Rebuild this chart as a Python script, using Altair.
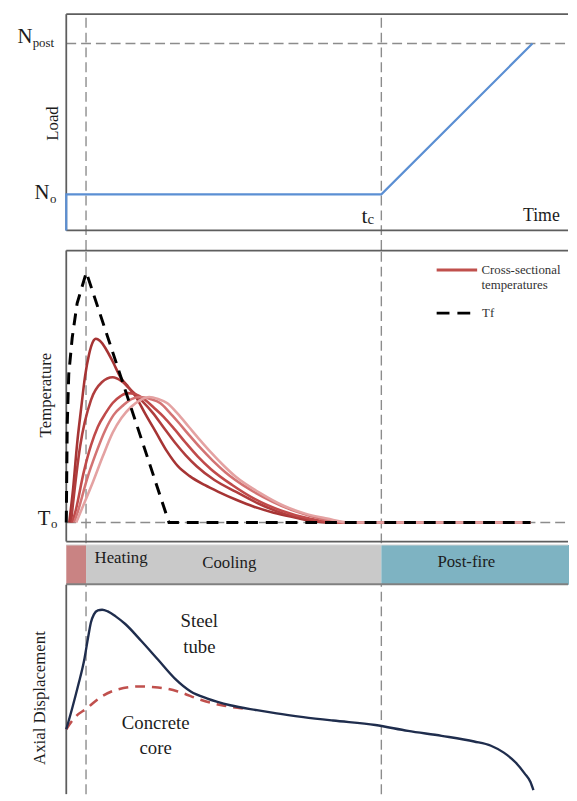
import altair as alt
import pandas as pd

# ---------------- schematic data ----------------
T_HEAT = 20      # end of heating
T_C = 319        # t_c : end of cooling, start of post-fire loading
T_END = 472      # end of post-fire loading
X_MIN, X_MAX = -59, 509

# Load history
N_O = 36.6
N_POST = 189.3
load_t = [0, 0, T_C, T_END]
load_n = [0, N_O, N_O, N_POST]

# Furnace temperature Tf (relative to T0 = 0)
tf_t = [0, 1, 2.5, 6, 11, 20.3, 104, 470]
tf_T = [0, 100, 150, 187, 222, 253.3, 0, 0]

# Cross-sectional temperatures (5 depths)
sec1_t = [3, 7, 11, 15, 19, 23, 27, 30, 34, 40, 47, 55, 63, 70, 80, 91, 102, 113, 125, 140, 154, 172, 190, 210, 227, 253, 275, 470]
sec1_T = [0, 35, 80, 115, 148, 170, 183, 186, 184, 176, 163, 147, 137, 128, 110, 91, 72, 57, 47, 38, 31, 23, 16, 10, 6, 1, 0, 0]
sec2_t = [4.8, 6.6, 14, 25, 36, 47, 56, 65.5, 76, 87.6, 98, 110, 121, 132, 150, 172, 195, 220, 243, 264, 470]
sec2_T = [0, 17, 77, 124, 142, 147, 143, 134, 124, 111, 97, 81, 68, 57, 43, 31, 19, 9, 3, 0, 0]
sec3_t = [6, 9, 17.7, 25, 32, 40, 47, 55, 62, 70, 80, 89, 98.6, 110, 120.7, 133, 146.5, 168, 190.6, 218, 246, 272, 470]
sec3_T = [0, 10, 51, 78, 97, 111, 121, 128, 131, 130, 124, 116, 107, 94, 81, 67, 54, 38, 24, 12, 4, 0, 0]
sec4_t = [8, 12, 21, 30, 39.7, 48, 58, 66, 75, 85, 95, 104, 113, 124, 135.4, 148, 161, 185, 209, 233, 257, 279, 470]
sec4_T = [0, 12, 44, 70, 94, 109, 119, 125, 127, 125, 121, 112, 102, 89, 76, 63, 51, 34, 21, 11, 4, 0, 0]
sec5_t = [10, 15, 27, 37, 47, 56, 65.5, 75, 84, 93, 102, 113, 124, 135, 146.5, 159, 172, 196, 220, 242, 264, 286, 470]
sec5_T = [0, 12, 41, 67, 91, 106, 117, 124, 127, 125, 121, 110, 97, 84, 71, 58, 46, 30, 17, 9, 4, 0, 0]
sec_colors = ["#a63434", "#b03d3d", "#c04a4a", "#d37373", "#e4a2a2"]

# Axial displacement
steel_t = [0, 6, 12, 18, 22, 25, 28, 32, 36.3, 42, 50, 60, 76, 93, 110, 126, 143, 166, 193, 213, 240, 270, 313, 346, 380, 413, 430, 443, 455, 464, 470, 473]
steel_d = [65.7, 87, 110, 135, 158, 174, 182, 186, 186.7, 185, 180, 172, 155, 136, 117, 104, 96.7, 90, 85, 81.7, 78, 74.5, 70, 64, 59, 53.3, 49, 42, 32, 21, 12.3, 4]
conc_t = [0, 5, 10, 20, 36, 53, 73, 93, 113, 136, 160, 180]
conc_d = [65.7, 73, 79, 86.3, 99, 106.3, 109, 108, 104, 95.5, 89.5, 86.6]

# Phase bar
phase_start = [0, T_HEAT, T_C]
phase_end = [T_HEAT, T_C, X_MAX]
phase_key = ["a", "b", "c"]
phase_colors = ["#c98383", "#c9c9c9", "#7eb3c2"]
phase_labels = ["Heating", "Cooling", "Post-fire"]
phase_label_x = [55.5, 165, 405]
phase_label_y = [27, 22, 22.7]

# ---------------- panel geometry (y domains per panel) ----------------
H1, D1 = 240, [-19.7, 220.3]
H2, D2 = 297, [-21, 276]
H3, D3 = 42, [0, 42]
H4, D4 = 212, [0, 212]
W = X_MAX - X_MIN

FONT = "Liberation Serif, Times New Roman, serif"
FRAME = "#5e5e5e"
GUIDE = "#8c8c8c"
INK = "#1c1c1c"


def X(f):
    return alt.X(f, type="quantitative", scale=alt.Scale(domain=[X_MIN, X_MAX], nice=False, zero=False), axis=None)


def Y(f, dom):
    return alt.Y(f, type="quantitative", scale=alt.Scale(domain=dom, nice=False, zero=False), axis=None)


def segs(rows, dom, **mk):
    df = pd.DataFrame(rows, columns=["x", "x2", "y", "y2"])
    return alt.Chart(df).mark_rule(**mk).encode(x=X("x"), x2="x2", y=Y("y", dom), y2="y2")


def line(ts, vs, dom, **mk):
    df = pd.DataFrame({"t": ts, "v": vs, "i": list(range(len(ts)))})
    return alt.Chart(df).mark_line(**mk).encode(x=X("t"), y=Y("v", dom), order=alt.Order("i:Q"))


def texts(labels, xs, ys, dom, **mk):
    df = pd.DataFrame({"label": labels, "x": xs, "y": ys})
    base = dict(font=FONT, color=INK)
    base.update(mk)
    return alt.Chart(df).mark_text(**base).encode(x=X("x"), y=Y("y", dom), text="label:N")


frame_mk = dict(color=FRAME, strokeWidth=1.8)
guide_mk = dict(color=GUIDE, strokeWidth=1.4, strokeDash=[10, 5])

# ---------------- Panel 1 : Load ----------------
p1 = alt.layer(
    segs([[T_HEAT, T_HEAT, -19.7, 219], [T_C, T_C, -19.7, 219]], D1, **guide_mk),
    segs([[0, X_MAX - 1, N_POST, N_POST]], D1, **guide_mk),
    segs([[0, X_MAX - 1, 219, 219], [0, X_MAX - 1, 0, 0], [0, 0, 0, 219]], D1, **frame_mk),
    line(load_t, load_n, D1, color="#5b8fd3", strokeWidth=2.2),
    texts(["N", "N"], [-34.3, -17], [190, 31.6], D1, align="right", baseline="alphabetic", fontSize=21),
    texts(["post", "o"], [-34, -16.5], [190, 31.6], D1, align="left", baseline="alphabetic", fontSize=13, dy=4),
    texts(["t"], [305], [7.6], D1, align="right", baseline="alphabetic", fontSize=22),
    texts(["c"], [305], [7.6], D1, align="left", baseline="alphabetic", fontSize=15, dy=1),
    texts(["Time"], [481], [10], D1, align="center", baseline="alphabetic", fontSize=18),
    texts(["Load"], [-13.6], [108.3], D1, align="center", baseline="middle", fontSize=17, angle=270),
).properties(width=W, height=H1)

# ---------------- Panel 2 : Temperature ----------------
sec_rows = []
for k, (ts, vs) in enumerate([(sec1_t, sec1_T), (sec2_t, sec2_T), (sec3_t, sec3_T), (sec4_t, sec4_T), (sec5_t, sec5_T)]):
    for i, (t, v) in enumerate(zip(ts, vs)):
        sec_rows.append({"curve": f"s{k + 1}", "t": t, "v": v, "i": i})
sec_df = pd.DataFrame(sec_rows)
sec_layer = alt.Chart(sec_df).mark_line(interpolate="monotone", strokeWidth=2.6).encode(
    x=X("t"), y=Y("v", D2),
    color=alt.Color("curve:N", scale=alt.Scale(domain=[f"s{k + 1}" for k in range(5)], range=sec_colors), legend=None),
    order=alt.Order("i:Q"),
)

p2 = alt.layer(
    segs([[T_HEAT, T_HEAT, -21, 275.3], [T_C, T_C, -21, 275.3]], D2, **guide_mk),
    segs([[0, X_MAX - 1, 0, 0]], D2, **guide_mk),
    segs([[0, X_MAX - 1, 275.3, 275.3], [0, X_MAX - 1, -19.3, -19.3], [0, 0, -19.3, 275.3]], D2, **frame_mk),
    sec_layer,
    line(tf_t, tf_T, D2, color="#000000", strokeWidth=3, strokeDash=[12, 8]),
    # legend drawn inside the panel
    segs([[375, 416, 255.7, 255.7]], D2, color="#c0504d", strokeWidth=3),
    segs([[375, 410, 212, 212]], D2, color="#000000", strokeWidth=3, strokeDash=[13, 8]),
    texts(["Cross-sectional", "temperatures", "Tf"], [420.3, 420.3, 421], [255.7, 240.7, 212], D2,
          align="left", baseline="middle", fontSize=13, color="#333333"),
    texts(["T"], [-16], [-2.7], D2, align="right", baseline="alphabetic", fontSize=21),
    texts(["o"], [-15.5], [-2.7], D2, align="left", baseline="alphabetic", fontSize=13, dy=3),
    texts(["Temperature"], [-20.5], [129], D2, align="center", baseline="middle", fontSize=17, angle=270),
).properties(width=W, height=H2)

# ---------------- Panel 3 : phase bar ----------------
phase_df = pd.DataFrame({"x": phase_start, "x2": phase_end, "k": phase_key, "y": [0] * 3, "y2": [40.3] * 3})
p3 = alt.layer(
    alt.Chart(phase_df).mark_rect().encode(
        x=X("x"), x2="x2", y=Y("y", D3), y2="y2",
        color=alt.Color("k:N", scale=alt.Scale(domain=phase_key, range=phase_colors), legend=None),
    ),
    segs([[0, X_MAX - 1, 40.3, 40.3]], D3, color="#d6d6d6", strokeWidth=1),
    segs([[0, X_MAX - 1, 0.6, 0.6]], D3, color="#808080", strokeWidth=2),
    texts(phase_labels, phase_label_x, phase_label_y, D3, align="center", baseline="middle", fontSize=17),
).properties(width=W, height=H3)

# ---------------- Panel 4 : axial displacement ----------------
p4 = alt.layer(
    segs([[T_HEAT, T_HEAT, 0, 212], [T_C, T_C, 0, 212]], D4, **guide_mk),
    segs([[0, 0, 0, 212]], D4, **frame_mk),
    line(conc_t, conc_d, D4, interpolate="monotone", color="#c0504d", strokeWidth=2.6, strokeDash=[10, 7]),
    line(steel_t, steel_d, D4, interpolate="monotone", color="#1f2d4d", strokeWidth=2.4),
    texts(["Steel", "tube"], [134.7, 134.7], [175.7, 149], D4, align="center", baseline="middle", fontSize=19),
    texts(["Concrete", "core"], [90.5, 90.5], [72.3, 46.3], D4, align="center", baseline="middle", fontSize=19),
    texts(["Axial Displacement"], [-27], [97.3], D4, align="center", baseline="middle", fontSize=17, angle=270),
).properties(width=W, height=H4)

chart = (
    alt.vconcat(p1, p2, p3, p4, spacing=0, bounds="flush")
    .resolve_scale(color="independent")
    .properties(padding=0)
    .configure_view(stroke=None)
)

chart.save("out.html", embed_options={"renderer": "svg", "actions": False})
